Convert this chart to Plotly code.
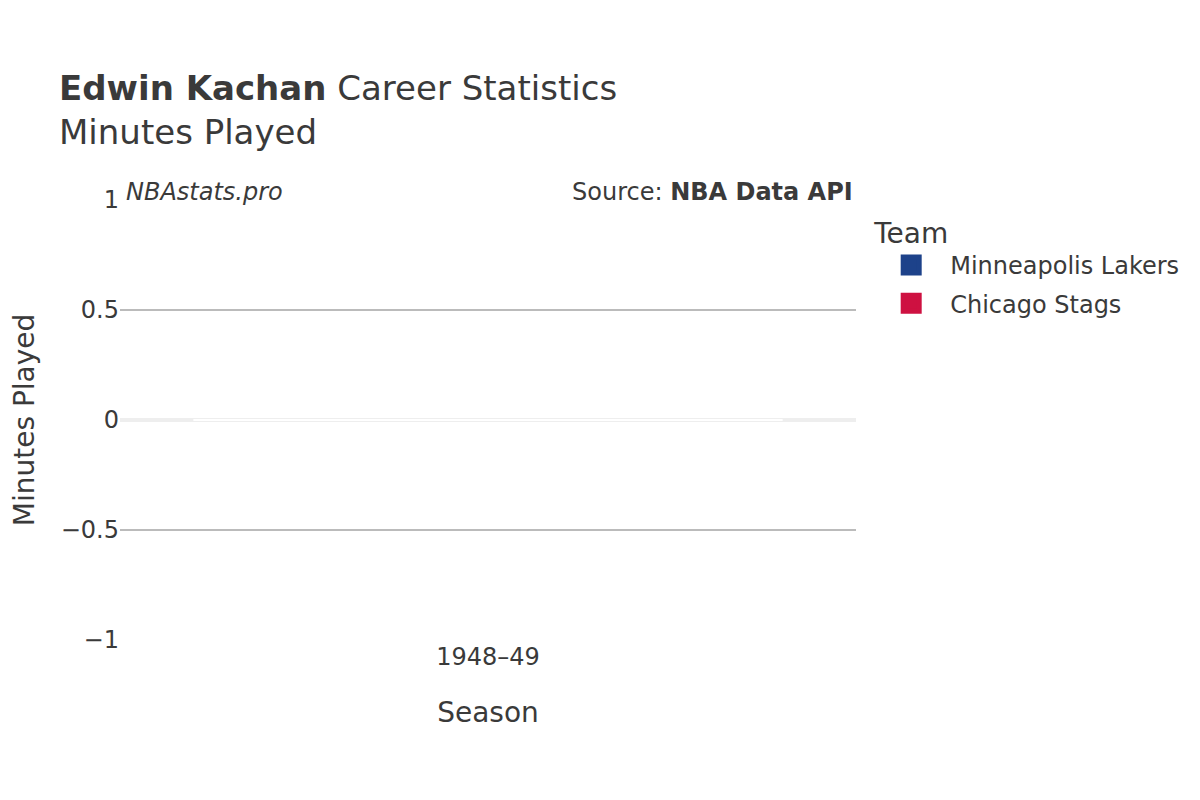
import plotly.graph_objects as go

# Career minutes by season and team (all zero for this player)
seasons = ["1948–49"]
teams = ["Minneapolis Lakers", "Chicago Stags"]
team_colors = ["#1D428A", "#CE1141"]
minutes = {
    "Minneapolis Lakers": [0],
    "Chicago Stags": [0],
}

font_family = "DejaVu Sans"

fig = go.Figure()
for team, color in zip(teams, team_colors):
    # the bars themselves
    fig.add_trace(go.Bar(
        x=seasons,
        y=minutes[team],
        name=team,
        legendgroup=team,
        showlegend=False,
        marker=dict(color=color, line=dict(color="white", width=2)),
    ))
    # legend entry with a bigger swatch
    fig.add_trace(go.Scatter(
        x=[None],
        y=[None],
        mode="markers",
        name=team,
        legendgroup=team,
        marker=dict(symbol="square", size=16, color=color, line=dict(color=color, width=5)),
    ))

fig.update_layout(
    width=1200,
    height=800,
    barmode="relative",
    plot_bgcolor="white",
    paper_bgcolor="white",
    font=dict(family=font_family, color="#3a3a3a", size=24),
    margin=dict(l=112, r=352, t=192, b=168),
    title=dict(
        text="<b>Edwin Kachan</b> Career Statistics<br>Minutes Played",
        x=0.0425,
        xanchor="left",
        y=0.885,
        yanchor="top",
        font=dict(size=34),
    ),
    legend=dict(
        title=dict(text="Team", font=dict(size=28)),
        font=dict(size=24),
        x=1.022,
        y=0.985,
        yanchor="top",
        itemwidth=68,
        tracegroupgap=4,
    ),
    xaxis=dict(
        title=dict(text="Season", font=dict(size=28), standoff=32),
        showgrid=False,
    ),
    yaxis=dict(
        title=dict(text="Minutes Played", font=dict(size=28), standoff=30),
        automargin=False,
        gridcolor="#bbbbbb",
        gridwidth=2,
        zerolinecolor="#eeeeee",
        zerolinewidth=4,
    ),
    annotations=[
        dict(text="<i>NBAstats.pro</i>", x=0.005, y=1.018, xref="paper", yref="paper",
             xanchor="left", yanchor="middle", showarrow=False, font=dict(size=24)),
        dict(text="Source: <b>NBA Data API</b>", x=0.999, y=1.018, xref="paper", yref="paper",
             xanchor="right", yanchor="middle", showarrow=False, font=dict(size=24)),
    ],
)

fig.write_html("out.html")
